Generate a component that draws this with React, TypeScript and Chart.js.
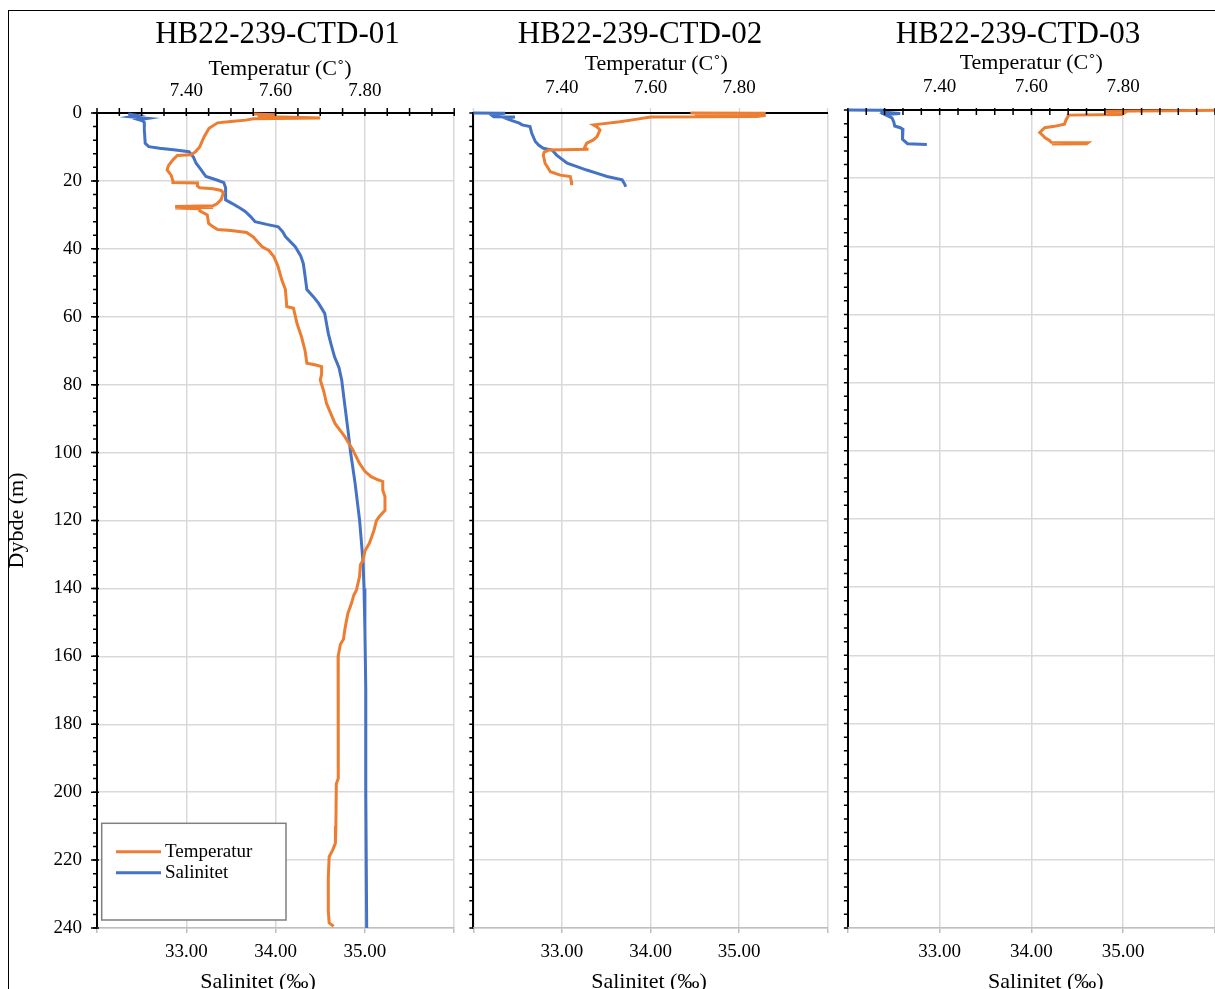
import React, { useEffect, useRef } from "react";
import { Chart, registerables } from "chart.js";

Chart.register(...registerables);

const FONT_FAMILY = '"Liberation Serif", "Times New Roman", Times, serif';
Chart.defaults.font.family = FONT_FAMILY;
Chart.defaults.color = "#000";

const ORANGE = "#ED7D31";
const BLUE = "#4472C4";
const GRID = "#D9D9D9";
const AXIS_GRAY = "#BFBFBF";

// ---------- text ----------
const stationNames = ["HB22-239-CTD-01", "HB22-239-CTD-02", "HB22-239-CTD-03"];
const seriesLabels = ["Temperatur", "Salinitet"];
const temperatureAxisTitle = "Temperatur (C˚)";
const salinityAxisTitle = "Salinitet (‰)";
const depthAxisTitle = "Dybde (m)";

// ---------- axes ----------
const temperatureRange = [7.2, 8.0];
const temperatureTickStep = 0.2;
const salinityRange = [32, 36];
const salinityTickStep = 1;
const depthRange = [0, 240];
const depthTickStep = 20;

// ---------- CTD-01 ----------
const ctd01TempDepth = [0.3, 0.5, 0.8, 1.1, 1.5, 1.7, 2.1, 2.5, 2.9, 4.5, 7.0, 10.0, 11.5, 12.3, 12.5, 13.8, 15.5, 16.8, 18.3, 20.0, 20.5, 20.6, 21.5, 22.0, 22.3, 22.8, 23.5, 25.5, 26.8, 27.3, 27.5, 27.8, 28.0, 28.2, 28.8, 30.0, 32.5, 33.5, 34.3, 34.6, 35.2, 36.5, 38.0, 39.4, 40.5, 42.3, 45.0, 49.2, 52.0, 57.0, 57.5, 62.0, 65.9, 70.0, 73.7, 74.2, 74.7, 77.0, 78.6, 82.0, 85.5, 88.0, 91.4, 95.3, 99.2, 103.2, 105.5, 107.1, 108.0, 108.5, 111.0, 113.0, 117.0, 118.9, 120.0, 123.0, 126.7, 129.0, 131.6, 133.0, 136.5, 140.5, 142.0, 144.4, 147.3, 150.0, 152.2, 155.0, 156.5, 158.0, 160.0, 175.0, 190.0, 196.0, 197.5, 210.0, 215.0, 217.0, 219.0, 225.0, 235.0, 238.5, 239.5];
const ctd01Temp = [7.55, 7.60, 7.56, 7.60, 7.70, 7.55, 7.533, 7.50, 7.47, 7.451, 7.44, 7.43, 7.42, 7.41, 7.38, 7.37, 7.36, 7.357, 7.366, 7.37, 7.37, 7.425, 7.425, 7.43, 7.46, 7.478, 7.483, 7.478, 7.468, 7.46, 7.375, 7.46, 7.375, 7.43, 7.43, 7.447, 7.45, 7.46, 7.47, 7.50, 7.535, 7.55, 7.56, 7.57, 7.585, 7.596, 7.605, 7.614, 7.622, 7.625, 7.64, 7.648, 7.658, 7.666, 7.67, 7.69, 7.703, 7.703, 7.70, 7.708, 7.714, 7.722, 7.733, 7.755, 7.773, 7.788, 7.80, 7.814, 7.829, 7.84, 7.84, 7.845, 7.845, 7.832, 7.826, 7.82, 7.81, 7.80, 7.796, 7.79, 7.788, 7.781, 7.775, 7.77, 7.762, 7.758, 7.755, 7.752, 7.745, 7.743, 7.74, 7.74, 7.741, 7.74, 7.736, 7.735, 7.734, 7.728, 7.72, 7.718, 7.718, 7.72, 7.73];
const ctd01SalDepth = [0.3, 0.7, 1.1, 1.6, 2.0, 2.3, 2.8, 5.0, 8.9, 9.9, 10.4, 10.9, 11.4, 13.0, 14.8, 16.5, 18.7, 19.8, 20.5, 22.0, 25.6, 26.6, 28.0, 29.0, 30.5, 32.0, 32.8, 33.5, 35.0, 36.4, 39.4, 42.0, 44.3, 48.0, 52.0, 54.0, 56.0, 59.0, 62.0, 64.9, 68.0, 71.8, 75.0, 78.6, 85.0, 93.3, 100.0, 109.0, 119.8, 126.0, 132.6, 140.0, 152.0, 170.0, 200.0, 240.0];
const ctd01Sal = [32.35, 32.45, 32.37, 32.57, 32.47, 32.51, 32.53, 32.53, 32.54, 32.58, 32.70, 32.88, 33.03, 33.08, 33.11, 33.16, 33.22, 33.35, 33.42, 33.44, 33.44, 33.51, 33.60, 33.66, 33.72, 33.77, 33.90, 34.03, 34.08, 34.11, 34.22, 34.28, 34.31, 34.33, 34.35, 34.42, 34.48, 34.55, 34.57, 34.59, 34.62, 34.66, 34.71, 34.74, 34.77, 34.81, 34.84, 34.89, 34.94, 34.96, 34.98, 34.99, 35.00, 35.01, 35.01, 35.02];

// ---------- CTD-02 ----------
const ctd02TempDepth = [0.0, 0.1, 0.4, 0.7, 1.0, 1.2, 1.8, 2.6, 3.2, 3.5, 4.2, 5.0, 7.0, 8.0, 8.9, 10.5, 10.7, 10.9, 11.5, 12.4, 14.8, 17.3, 18.3, 18.7, 20.0, 21.2];
const ctd02Temp = [7.69, 7.86, 7.70, 7.86, 7.84, 7.60, 7.57, 7.531, 7.49, 7.471, 7.48, 7.486, 7.479, 7.47, 7.456, 7.45, 7.46, 7.37, 7.36, 7.358, 7.362, 7.374, 7.396, 7.419, 7.421, 7.422];
const ctd02SalDepth = [0.0, 0.1, 0.5, 1.1, 1.2, 1.5, 2.1, 3.0, 3.5, 4.0, 6.0, 8.4, 9.5, 10.4, 10.9, 12.4, 14.8, 15.8, 16.8, 17.8, 18.7, 19.7, 21.0, 21.7];
const ctd02Sal = [32.00, 32.36, 32.20, 32.23, 32.47, 32.36, 32.42, 32.52, 32.55, 32.64, 32.66, 32.70, 32.74, 32.79, 32.89, 32.94, 33.06, 33.17, 33.28, 33.40, 33.51, 33.68, 33.71, 33.72];

// ---------- CTD-03 ----------
const ctd03TempDepth = [0.0, 0.2, 0.4, 1.0, 1.3, 1.5, 1.8, 3.0, 4.2, 4.8, 5.2, 6.6, 7.5, 8.1, 9.0, 9.5, 9.6, 9.9, 10.0];
const ctd03Temp = [8.10, 7.90, 7.76, 7.80, 7.796, 7.68, 7.68, 7.675, 7.672, 7.65, 7.629, 7.618, 7.625, 7.629, 7.64, 7.643, 7.723, 7.72, 7.645];
const ctd03SalDepth = [0.0, 0.1, 0.6, 1.0, 1.3, 2.3, 3.5, 4.7, 5.2, 5.7, 7.0, 8.6, 9.9, 10.1];
const ctd03Sal = [32.00, 32.37, 32.37, 32.57, 32.40, 32.48, 32.50, 32.51, 32.57, 32.60, 32.59, 32.60, 32.65, 32.86];

const CANVAS_H = 1000;
const TICK_FONT = 19;
const AXIS_TITLE_FONT = 22;
const MAIN_TITLE_FONT = 31;

type Mark = { scale: string; from: number; to: number; step: number; out: number; inn: number };
type Txt = { text: string; x: number; y: number; size: number; rotate?: boolean };

type Panel = {
  name: string;
  canvasLeft: number;
  canvasWidth: number;
  plotLeft: number;
  plotRight: number;
  plotTop: number;
  plotBottom: number;
  topLabelPad: number;
  topGrayTicks: boolean;
  depthLabels: boolean;
  tempDepth: number[];
  temp: number[];
  salDepth: number[];
  sal: number[];
  marks: Mark[];
  titleX: number;
  tempTitle: [number, number];
  salTitleX: number;
  yTitle: boolean;
  legend: boolean;
};

const panels: Panel[] = [
  {
    name: stationNames[0], canvasLeft: 0, canvasWidth: 465,
    plotLeft: 97, plotRight: 457, plotTop: 113, plotBottom: 928,
    topLabelPad: 10.8, topGrayTicks: false, depthLabels: true,
    tempDepth: ctd01TempDepth, temp: ctd01Temp, salDepth: ctd01SalDepth, sal: ctd01Sal,
    marks: [
      { scale: "xT", from: 7.2, to: 8.0, step: 0.05, out: 5, inn: 3 },
      { scale: "y", from: 0, to: 240, step: 20, out: 6, inn: 2 },
      { scale: "y", from: 0, to: 240, step: 4, out: 4, inn: 0 },
    ],
    titleX: 277.5, tempTitle: [280, 69.7], salTitleX: 258, yTitle: true, legend: true,
  },
  {
    name: stationNames[1], canvasLeft: 465, canvasWidth: 371,
    plotLeft: 473, plotRight: 829, plotTop: 113, plotBottom: 928,
    topLabelPad: 8.3, topGrayTicks: true, depthLabels: false,
    tempDepth: ctd02TempDepth, temp: ctd02Temp, salDepth: ctd02SalDepth, sal: ctd02Sal,
    marks: [{ scale: "y", from: 0, to: 240, step: 4, out: 4, inn: 0 }],
    titleX: 640, tempTitle: [656.3, 64.5], salTitleX: 649, yTitle: false, legend: false,
  },
  {
    name: stationNames[2], canvasLeft: 836, canvasWidth: 404,
    plotLeft: 846, plotRight: 1215, plotTop: 110, plotBottom: 928,
    topLabelPad: 11.9, topGrayTicks: false, depthLabels: false,
    tempDepth: ctd03TempDepth, temp: ctd03Temp, salDepth: ctd03SalDepth, sal: ctd03Sal,
    marks: [
      { scale: "xT", from: 7.2, to: 8.0, step: 0.04, out: 2, inn: 5 },
      { scale: "y", from: 0, to: 240, step: 4, out: 4, inn: 0 },
    ],
    titleX: 1018, tempTitle: [1031.3, 63.5], salTitleX: 1045.8, yTitle: false, legend: false,
  },
];

const decorPlugin = {
  id: "decor",
  afterDraw(chart: any, _args: any, opts: any) {
    const ctx = chart.ctx as CanvasRenderingContext2D;
    ctx.save();
    ctx.strokeStyle = "#000";
    ctx.lineWidth = 1.5;
    for (const m of (opts.marks || []) as Mark[]) {
      const scale = chart.scales[m.scale];
      if (!scale) continue;
      const n = Math.round((m.to - m.from) / m.step);
      ctx.beginPath();
      for (let i = 0; i <= n; i++) {
        const v = m.from + i * m.step;
        const p = scale.getPixelForValue(v);
        if (scale.isHorizontal()) {
          const top = scale.position === "top";
          const y0 = top ? scale.bottom : scale.top;
          const dir = top ? -1 : 1;
          ctx.moveTo(p, y0 + dir * m.out);
          ctx.lineTo(p, y0 - dir * m.inn);
        } else {
          const x0 = scale.right;
          ctx.moveTo(x0 - m.out, p);
          ctx.lineTo(x0 + m.inn, p);
        }
      }
      ctx.stroke();
    }
    ctx.fillStyle = "#000";
    ctx.textAlign = "center";
    ctx.textBaseline = "middle";
    for (const t of (opts.texts || []) as Txt[]) {
      ctx.font = `${t.size}px ${FONT_FAMILY}`;
      if (t.rotate) {
        ctx.save();
        ctx.translate(t.x, t.y);
        ctx.rotate(-Math.PI / 2);
        ctx.fillText(t.text, 0, 0);
        ctx.restore();
      } else {
        ctx.fillText(t.text, t.x, t.y);
      }
    }
    const lg = opts.legend;
    if (lg) {
      ctx.fillStyle = "#fff";
      ctx.fillRect(lg.x, lg.y, lg.w, lg.h);
      ctx.strokeStyle = "#7F7F7F";
      ctx.lineWidth = 1.5;
      ctx.strokeRect(lg.x, lg.y, lg.w, lg.h);
      chart.data.datasets.forEach((ds: any, i: number) => {
        const y = lg.rowY[i];
        ctx.strokeStyle = ds.borderColor;
        ctx.lineWidth = 3;
        ctx.beginPath();
        ctx.moveTo(lg.lineX0, y);
        ctx.lineTo(lg.lineX1, y);
        ctx.stroke();
        ctx.fillStyle = "#000";
        ctx.textAlign = "left";
        ctx.textBaseline = "middle";
        ctx.font = `19px ${FONT_FAMILY}`;
        ctx.fillText(ds.label, lg.textX, y);
      });
    }
    ctx.restore();
  },
};

const zip = (ys: number[], xs: number[]) =>
  xs.slice(0, Math.min(xs.length, ys.length)).map((x, i) => ({ x, y: ys[i] }));

const edgeFmt = (min: number, max: number) => (v: any) => {
  const n = Number(v);
  if (Math.abs(n - min) < 1e-6 || Math.abs(n - max) < 1e-6) return "";
  return n.toFixed(2);
};

function makeConfig(p: Panel): any {
  const L = p.canvasLeft;
  const texts: Txt[] = [
    { text: p.name, x: p.titleX - L, y: 35, size: MAIN_TITLE_FONT },
    { text: temperatureAxisTitle, x: p.tempTitle[0] - L, y: p.tempTitle[1], size: AXIS_TITLE_FONT },
    { text: salinityAxisTitle, x: p.salTitleX - L, y: 982, size: AXIS_TITLE_FONT },
  ];
  if (p.yTitle) texts.push({ text: depthAxisTitle, x: 17 - L, y: 520.5, size: AXIS_TITLE_FONT, rotate: true });
  const legend = p.legend
    ? { x: 101.7 - L, y: 823.3, w: 184.3, h: 96.7, lineX0: 116 - L, lineX1: 161 - L, textX: 165 - L, rowY: [851.7, 872.7] }
    : null;

  return {
    type: "scatter",
    data: {
      datasets: [
        {
          label: seriesLabels[0],
          data: zip(p.tempDepth, p.temp),
          xAxisID: "xT",
          yAxisID: "y",
          borderColor: ORANGE,
          backgroundColor: ORANGE,
          borderWidth: 3,
          showLine: true,
          pointRadius: 0,
          tension: 0,
          clip: 3,
        },
        {
          label: seriesLabels[1],
          data: zip(p.salDepth, p.sal),
          xAxisID: "xS",
          yAxisID: "y",
          borderColor: BLUE,
          backgroundColor: BLUE,
          borderWidth: 3,
          showLine: true,
          pointRadius: 0,
          tension: 0,
          clip: 3,
        },
      ],
    },
    plugins: [decorPlugin],
    options: {
      responsive: false,
      animation: false,
      devicePixelRatio: 1,
      events: [],
      layout: { padding: { left: 0, right: p.canvasWidth - (p.plotRight - L), top: 0, bottom: 0 } },
      plugins: {
        legend: { display: false },
        title: { display: false },
        tooltip: { enabled: false },
        decor: { marks: p.marks, texts, legend },
      },
      scales: {
        y: {
          type: "linear",
          axis: "y",
          position: "left",
          reverse: true,
          min: depthRange[0],
          max: depthRange[1],
          ticks: {
            stepSize: depthTickStep,
            display: p.depthLabels,
            padding: 15,
            font: { size: TICK_FONT },
            color: "#000",
          },
          grid: { color: GRID, lineWidth: 1.5, drawTicks: false },
          border: { display: true, color: "#000", width: 2 },
          afterFit: (s: any) => {
            s.width = p.plotLeft - L;
          },
        },
        xT: {
          type: "linear",
          axis: "x",
          position: "top",
          min: temperatureRange[0],
          max: temperatureRange[1],
          ticks: {
            stepSize: temperatureTickStep,
            autoSkip: false,
            maxRotation: 0,
            padding: p.topLabelPad,
            font: { size: TICK_FONT },
            color: "#000",
            callback: edgeFmt(temperatureRange[0], temperatureRange[1]),
          },
          grid: {
            drawOnChartArea: false,
            drawTicks: p.topGrayTicks,
            tickLength: 5,
            tickColor: GRID,
            tickWidth: 1.5,
          },
          border: { display: true, color: "#000", width: 2 },
          afterFit: (s: any) => {
            s.height = p.plotTop;
          },
        },
        xS: {
          type: "linear",
          axis: "x",
          position: "bottom",
          min: salinityRange[0],
          max: salinityRange[1],
          ticks: {
            stepSize: salinityTickStep,
            autoSkip: false,
            maxRotation: 0,
            padding: 8.1,
            font: { size: TICK_FONT },
            color: "#000",
            callback: edgeFmt(salinityRange[0], salinityRange[1]),
          },
          grid: {
            color: GRID,
            lineWidth: 1.5,
            drawTicks: true,
            tickLength: 5,
            tickColor: AXIS_GRAY,
            tickWidth: 1.5,
          },
          border: { display: true, color: AXIS_GRAY, width: 1.5 },
          afterFit: (s: any) => {
            s.height = CANVAS_H - p.plotBottom;
          },
        },
      },
    },
  };
}

function ProfileChart({ panel }: { panel: Panel }) {
  const ref = useRef<HTMLCanvasElement | null>(null);
  useEffect(() => {
    if (!ref.current) return;
    const chart = new Chart(ref.current, makeConfig(panel));
    return () => chart.destroy();
  }, [panel]);
  return (
    <canvas
      ref={ref}
      width={panel.canvasWidth}
      height={CANVAS_H}
      style={{ position: "absolute", left: panel.canvasLeft, top: 0, width: panel.canvasWidth, height: CANVAS_H }}
    />
  );
}

export default function App() {
  return (
    <div
      style={{
        position: "absolute",
        left: 0,
        top: 0,
        width: 1215,
        height: 989,
        overflow: "hidden",
        background: "#fff",
      }}
    >
      <div
        style={{
          position: "absolute",
          left: 8,
          top: 10,
          width: 1400,
          height: 1200,
          borderLeft: "1px solid #000",
          borderTop: "1px solid #000",
        }}
      />
      {panels.map((p) => (
        <ProfileChart key={p.name} panel={p} />
      ))}
    </div>
  );
}
